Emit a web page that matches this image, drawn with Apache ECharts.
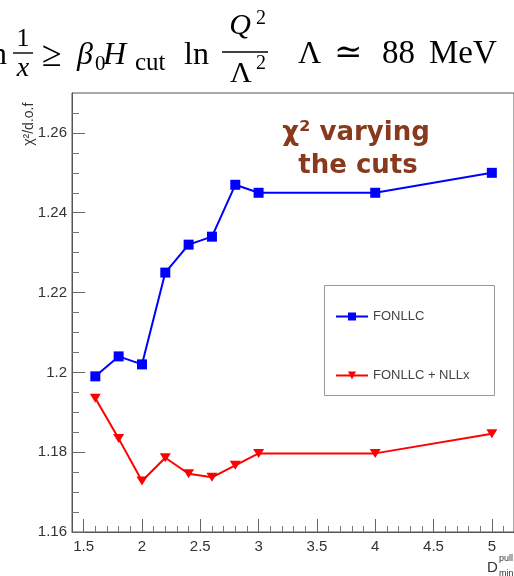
<!DOCTYPE html>
<html>
<head>
<meta charset="utf-8">
<script src="https://cdn.jsdelivr.net/npm/echarts@6/dist/echarts.min.js"></script>
<style>
  html, body { margin: 0; padding: 0; background: #fff; overflow: hidden; }
  #chart { width: 514px; height: 576px; }
</style>
</head>
<body>
<div id="chart"></div>
<script>
// Cut value on the x axis and chi2 per degree of freedom for each fit
const cutValues      = [1.6, 1.8, 2.0, 2.2, 2.4, 2.6, 2.8, 3.0, 4.0, 5.0];
const chi2Fonllc     = [1.199, 1.204, 1.202, 1.225, 1.232, 1.234, 1.247, 1.245, 1.245, 1.250];
const chi2FonllcNllx = [1.1935, 1.1834, 1.1728, 1.1786, 1.1746, 1.1737, 1.1767, 1.1797, 1.1797, 1.1846];

const seriesNames = ['FONLLC', 'FONLLC + NLLx'];

// Axis ticks (ROOT style: labelled majors, short minors)
const xMajorTicks = [1.5, 2, 2.5, 3, 3.5, 4, 4.5, 5];
const yMajorTicks = [1.16, 1.18, 1.2, 1.22, 1.24, 1.26];
const xMinorTicks = [];
for (let i = 15; i <= 51; i++) if (i % 5 !== 0) xMinorTicks.push(i / 10);
const yMinorTicks = [];
for (let i = 233; i <= 253; i++) if (i % 4 !== 0) yMinorTicks.push(i / 200);

const toPairs = ys => cutValues.map((x, i) => [x, ys[i]]);
const trimNum = v => String(parseFloat(Number(v).toFixed(3)));

const X_MIN = 1.4, X_MAX = 5.19, Y_MIN = 1.16, Y_MAX = 1.27;
const gridBox = { left: 72, top: 93, right: -5, bottom: 44 };

const serif = '"Liberation Serif", "DejaVu Serif", serif';
const sans = '"Liberation Sans", Arial, sans-serif';

// text placed by its baseline
function txt(text, x, baseline, size, opts) {
  opts = opts || {};
  return {
    type: 'text',
    x: x,
    y: baseline - 0.3 * size,
    silent: true,
    rotation: opts.rotation || 0,
    style: {
      text: text,
      fill: opts.color || '#000',
      font: (opts.italic ? 'italic ' : '') + (opts.bold ? 'bold ' : '') + size + 'px ' + (opts.family || serif),
      align: opts.align || 'left',
      verticalAlign: 'middle'
    }
  };
}
function hline(x1, x2, y, w) {
  return { type: 'line', silent: true, shape: { x1: x1, y1: y, x2: x2, y2: y },
           style: { stroke: '#000', lineWidth: w || 1.4 } };
}

const brown = '#8a3a1c';

const chart = echarts.init(document.getElementById('chart'), null, { renderer: 'canvas' });

chart.setOption({
  animation: false,
  backgroundColor: '#fff',
  grid: [
    Object.assign({ show: true, borderColor: '#555', borderWidth: 1, backgroundColor: 'transparent' }, gridBox),
    Object.assign({}, gridBox)
  ],
  xAxis: [
    {
      type: 'value', gridIndex: 0, min: X_MIN, max: X_MAX,
      axisLine: { onZero: false, lineStyle: { color: '#555', width: 1 } },
      axisTick: { inside: true, length: 13, customValues: xMajorTicks, lineStyle: { color: '#666' } },
      axisLabel: { customValues: xMajorTicks, margin: 7, color: '#333', fontSize: 15, fontFamily: sans,
                   formatter: trimNum },
      splitLine: { show: false }
    },
    {
      type: 'value', gridIndex: 1, min: X_MIN, max: X_MAX,
      axisLine: { show: false },
      axisTick: { inside: true, length: 6, customValues: xMinorTicks, lineStyle: { color: '#777' } },
      axisLabel: { show: false },
      splitLine: { show: false }
    }
  ],
  yAxis: [
    {
      type: 'value', gridIndex: 0, min: Y_MIN, max: Y_MAX,
      axisLine: { show: true, onZero: false, lineStyle: { color: '#555', width: 1 } },
      axisTick: { show: true, inside: true, length: 13, customValues: yMajorTicks, lineStyle: { color: '#666' } },
      axisLabel: { customValues: yMajorTicks, margin: 5, color: '#333', fontSize: 15, fontFamily: sans,
                   formatter: trimNum },
      splitLine: { show: false }
    },
    {
      type: 'value', gridIndex: 1, min: Y_MIN, max: Y_MAX,
      axisLine: { show: false },
      axisTick: { show: true, inside: true, length: 7, customValues: yMinorTicks, lineStyle: { color: '#777' } },
      axisLabel: { show: false },
      splitLine: { show: false }
    }
  ],
  legend: {
    orient: 'vertical',
    left: 330,
    top: 305,
    itemWidth: 32,
    itemHeight: 10,
    itemGap: 46,
    textStyle: { color: '#444', fontSize: 13, fontFamily: sans },
    data: seriesNames
  },
  series: [
    {
      name: seriesNames[0], type: 'line', xAxisIndex: 0, yAxisIndex: 0,
      data: toPairs(chi2Fonllc),
      color: '#0000ff',
      lineStyle: { width: 2, color: '#0000ff' },
      symbol: 'rect', symbolSize: 10,
      itemStyle: { color: '#0000ff' }
    },
    {
      name: seriesNames[1], type: 'line', xAxisIndex: 0, yAxisIndex: 0,
      data: toPairs(chi2FonllcNllx),
      color: '#ff0000',
      lineStyle: { width: 2, color: '#ff0000' },
      symbol: 'triangle', symbolRotate: 180, symbolSize: [11, 9],
      itemStyle: { color: '#ff0000' }
    }
  ],
  graphic: [
    // legend frame
    { type: 'rect', silent: true, shape: { x: 324.5, y: 285.5, width: 170, height: 110 },
      style: { fill: 'none', stroke: '#999', lineWidth: 1 } },

    // y-axis title
    txt('χ²/d.o.f', 29, 150, 14, { family: sans, color: '#333', rotation: Math.PI / 2 }),

    // x-axis title
    txt('D', 487, 572, 15, { family: sans, color: '#333' }),
    txt('pull', 499, 561, 9, { family: sans, color: '#333' }),
    txt('min', 499, 576, 9, { family: sans, color: '#333' }),

    // annotation
    txt('χ² varying', 356, 141, 26, { family: '"DejaVu Sans", sans-serif', bold: true, color: brown, align: 'center' }),
    txt('the cuts', 358, 174, 26, { family: '"DejaVu Sans", sans-serif', bold: true, color: brown, align: 'center' }),

    // cut condition above the plot
    txt('n', -9, 65, 32),
    txt('1', 23, 47, 26, { align: 'center' }),
    hline(13, 33, 53),
    txt('x', 23, 77, 28, { italic: true, align: 'center' }),
    txt('≥', 42, 67, 36),
    txt('β', 77, 65, 32, { italic: true }),
    txt('0', 95, 71, 21),
    txt('H', 103, 65, 32, { italic: true }),
    txt('cut', 135, 71, 25),
    txt('ln', 184, 65, 32),
    txt('Q', 240, 35, 30, { italic: true, align: 'center' }),
    txt('2', 256, 25, 20),
    hline(222, 268, 52),
    txt('Λ', 241, 83, 30, { align: 'center' }),
    txt('2', 256, 70, 20),
    txt('Λ', 298, 64, 32),
    txt('≃', 334, 64, 34),
    txt('88', 382, 64, 33),
    txt('MeV', 429, 64, 33)
  ]
});
</script>
</body>
</html>
